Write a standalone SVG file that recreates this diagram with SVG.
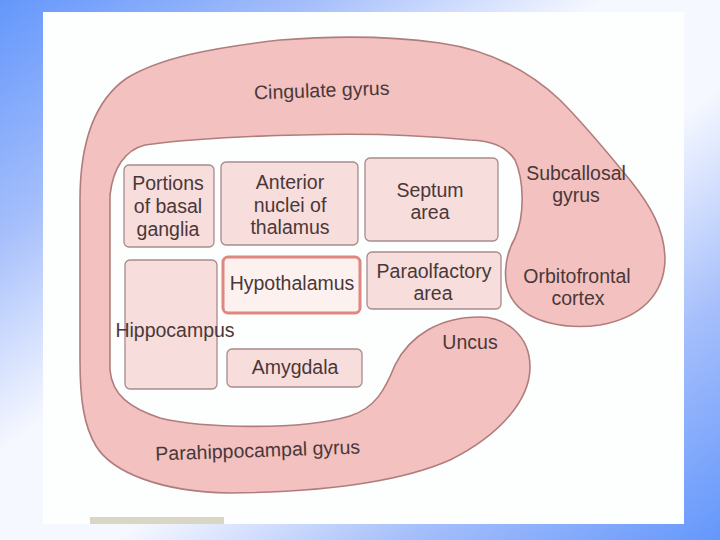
<svg xmlns="http://www.w3.org/2000/svg" width="720" height="540" viewBox="0 0 720 540">
<defs>
<linearGradient id="bg" x1="0" y1="0" x2="1" y2="1">
<stop offset="0" stop-color="#6497fb"/>
<stop offset="0.22" stop-color="#a6bffb"/>
<stop offset="0.42" stop-color="#f6f8ff"/>
<stop offset="0.58" stop-color="#f6f8ff"/>
<stop offset="0.78" stop-color="#a6bffb"/>
<stop offset="1" stop-color="#6497fb"/>
</linearGradient>
</defs>
<style>
.lbl{font-family:"Liberation Sans",Arial,sans-serif;font-size:19.5px;fill:#4a3838;text-anchor:middle}
.box{fill:#f7dddc;stroke:#a98a8a;stroke-width:1.3}
.band{fill:#f2c1c0;stroke:#b07d7c;stroke-width:1.6}
</style>
<rect x="0" y="0" width="720" height="540" fill="url(#bg)"/>
<rect x="43" y="12" width="641" height="512" fill="#fdfefe"/>
<rect x="90" y="517" width="134" height="7" fill="#d9d7c3"/>

<g id="limbic-band">
<path class="band" d="M480,317 C505,317 530,335 530,367 C530,400 500,435 450,460 C400,482 320,492 230,493 C160,492 112,472 96,446 C84,426 80,400 80,360 L80,200 C80,140 95,100 127,78 C160,58 210,48 280,40 C330,36 390,36 440,43 C490,50 530,72 560,100 C585,125 607,152 630,180 C650,205 665,230 665,260 C664,295 640,318 600,325 C565,330 530,322 515,303 C500,285 505,255 515,238 C525,215 524,180 515,160 C505,145 490,141 470,140 C420,135 360,133 300,135 C250,136 190,139 145,145 C125,150 113,168 110,195 L110,370 C112,395 130,408 160,418 C200,428 300,431 350,416 C375,408 385,390 395,365 C410,335 440,317 480,317 Z"/>
</g>

<g id="cingulate-gyrus"><text class="lbl" x="322" y="97" transform="rotate(-2 322 97)">Cingulate gyrus</text></g>
<g id="parahippocampal-gyrus"><text class="lbl" x="258" y="457" transform="rotate(-2 258 457)">Parahippocampal gyrus</text></g>
<g id="subcallosal-gyrus"><text class="lbl" x="576" y="180">Subcallosal</text><text class="lbl" x="576" y="202">gyrus</text></g>
<g id="orbitofrontal-cortex"><text class="lbl" x="577" y="283">Orbitofrontal</text><text class="lbl" x="578" y="305">cortex</text></g>
<g id="uncus"><text class="lbl" x="470" y="349">Uncus</text></g>

<g id="basal-ganglia">
<rect class="box" x="124" y="165" width="90" height="82" rx="5"/>
<text class="lbl" x="168" y="190">Portions</text><text class="lbl" x="168" y="213">of basal</text><text class="lbl" x="168" y="236">ganglia</text>
</g>
<g id="anterior-thalamus">
<rect class="box" x="221" y="162" width="137" height="83" rx="5"/>
<text class="lbl" x="290" y="189">Anterior</text><text class="lbl" x="290" y="212">nuclei of</text><text class="lbl" x="290" y="234">thalamus</text>
</g>
<g id="septum-area">
<rect class="box" x="365" y="158" width="133" height="83" rx="5"/>
<text class="lbl" x="430" y="197">Septum</text><text class="lbl" x="430" y="219">area</text>
</g>
<g id="hippocampus">
<rect class="box" x="125" y="260" width="92" height="129" rx="5"/>
<text class="lbl" x="175" y="337">Hippocampus</text>
</g>
<g id="hypothalamus">
<rect x="223" y="257" width="137" height="56" rx="5" fill="#fdf1f0" stroke="#e08780" stroke-width="3"/>
<text class="lbl" x="292" y="290">Hypothalamus</text>
</g>
<g id="paraolfactory-area">
<rect class="box" x="367" y="252" width="134" height="57" rx="5"/>
<text class="lbl" x="434" y="278">Paraolfactory</text><text class="lbl" x="433" y="300">area</text>
</g>
<g id="amygdala">
<rect class="box" x="227" y="349" width="135" height="38" rx="5"/>
<text class="lbl" x="295" y="374">Amygdala</text>
</g>
</svg>
